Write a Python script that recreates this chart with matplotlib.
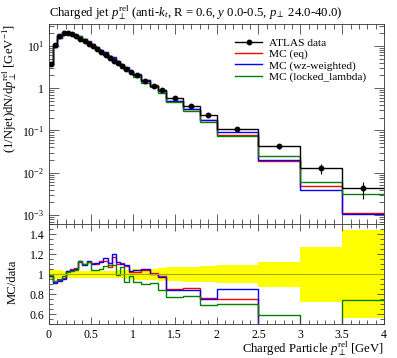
import numpy as np
import matplotlib
matplotlib.use('Agg')
import matplotlib.pyplot as plt
from matplotlib.ticker import MultipleLocator, LogLocator, NullFormatter, FuncFormatter

plt.rcParams['font.family'] = ['Liberation Serif', 'DejaVu Serif']
plt.rcParams['mathtext.fontset'] = 'custom'
plt.rcParams['mathtext.rm'] = 'Liberation Serif'
plt.rcParams['mathtext.it'] = 'Liberation Serif:italic'

# bin edges of charged particle p_T^rel [GeV]
EDGES = [0.0, 0.05, 0.1, 0.15, 0.2, 0.25, 0.3, 0.35, 0.4, 0.45, 0.5,
         0.55, 0.6, 0.65, 0.7, 0.75, 0.8, 0.85, 0.9, 0.95, 1.0,
         1.1, 1.2, 1.3, 1.4, 1.6, 1.8, 2.0, 2.5, 3.0, 3.5, 4.0]

# ATLAS data, (1/Njet) dN/dp_T^rel
DATA = [3.7, 10.5, 16.8, 20.5, 20.5, 19.0, 16.8, 14.8, 13.0, 11.3,
        9.8, 8.4, 7.2, 6.2, 5.3, 4.5, 3.9, 3.3, 2.85, 2.45,
        2.05, 1.5, 1.15, 0.9, 0.6, 0.38, 0.23, 0.107, 0.042, 0.0127, 0.0043]
DATA_RELERR = [0.05, 0.045, 0.04, 0.035, 0.035, 0.035, 0.035, 0.035, 0.035, 0.035,
               0.035, 0.035, 0.035, 0.035, 0.035, 0.035, 0.04, 0.04, 0.045, 0.05,
               0.055, 0.055, 0.055, 0.065, 0.067, 0.075, 0.078, 0.09, 0.125, 0.275, 0.44]

# MC / data ratios
RATIO_EQ = [0.98, 0.92, 0.94, 0.96, 1.03, 1.05, 1.06, 1.12, 1.10, 1.12,
            1.11, 1.10, 1.13, 1.13, 1.07, 1.17, 1.10, 1.11, 1.08, 1.02,
            1.02, 1.045, 1.01, 0.98, 0.85, 0.86, 0.76, 0.75, 0.45, 0.39, 0.26]
RATIO_WZ = [0.977, 0.91, 0.93, 0.95, 1.03, 1.04, 1.05, 1.13, 1.09, 1.13,
            1.10, 1.11, 1.12, 1.16, 1.11, 1.20, 1.12, 1.10, 1.09, 1.03,
            1.045, 1.05, 1.00, 0.97, 0.845, 0.845, 0.755, 0.855, 0.476, 0.31, 0.25]
RATIO_LL = [0.99, 0.93, 0.95, 0.98, 1.02, 1.03, 1.04, 1.13, 1.10, 1.12,
            1.04, 1.04, 1.05, 1.08, 1.09, 1.09, 0.99, 1.07, 0.92, 0.98,
            0.92, 0.90, 0.91, 0.84, 0.77, 0.78, 0.69, 0.70, 0.59, 0.47, 0.74]

MC = [('MC (eq)', RATIO_EQ, 'red'),
      ('MC (wz-weighted)', RATIO_WZ, 'blue'),
      ('MC (locked_lambda)', RATIO_LL, 'green')]

FS = 9.2
TFS = 8.5
LFS = 8.2


def log_label(v, pos):
    e = int(round(np.log10(v)))
    if e == 0:
        return '1'
    return r'$10^{%d}$' % e


def main():
    edges = np.array(EDGES)
    data = np.array(DATA)
    err = data * np.array(DATA_RELERR)
    centres = 0.5 * (edges[1:] + edges[:-1])

    fig = plt.figure(figsize=(3.97, 3.58), dpi=100)
    ax = fig.add_axes([0.1234, 0.374, 0.844, 0.559])
    rx = fig.add_axes([0.1234, 0.095, 0.844, 0.279])

    # main panel
    for label, ratio, col in MC:
        ax.stairs(data * np.array(ratio), edges, baseline=None,
                  color=col, lw=1.0, label=label)
    ax.stairs(data, edges, baseline=None, color='black', lw=1.0)
    ax.errorbar(centres, data, yerr=err, fmt='o', color='black',
                ms=3.2, lw=0.8, capsize=0)
    ax.plot([], [], '-o', color='black', ms=3.2, lw=1.0, label='ATLAS data')

    ax.set_yscale('log')
    ax.set_xlim(0, 4)
    ax.set_ylim(6.1e-4, 33)
    ax.yaxis.set_major_locator(LogLocator(base=10, numticks=10))
    ax.yaxis.set_major_formatter(FuncFormatter(log_label))
    ax.yaxis.set_minor_locator(LogLocator(base=10, subs=np.arange(2, 10), numticks=10))
    ax.yaxis.set_minor_formatter(NullFormatter())
    ax.xaxis.set_major_locator(MultipleLocator(0.5))
    ax.xaxis.set_minor_locator(MultipleLocator(0.1))
    ax.tick_params(labelbottom=False)
    ax.set_ylabel(r'(1/Njet)dN/d$p_{\perp}^{\mathrm{rel}}$ [GeV$^{-1}$]',
                  fontsize=FS, loc='top')
    ax.yaxis.set_label_coords(-0.09, 1.0)
    ax.set_title(r'Charged jet $p_{\perp}^{\mathrm{rel}}$ (anti-$k_t$, R = 0.6, '
                 r'$y$ 0.0-0.5, $p_{\perp}$ 24.0-40.0)',
                 loc='left', fontsize=FS, pad=5)

    h, l = ax.get_legend_handles_labels()
    order = [3, 0, 1, 2]
    ax.legend([h[i] for i in order], [l[i] for i in order], loc='upper right',
              frameon=False, fontsize=LFS, handlelength=2.35, handletextpad=0.6,
              labelspacing=0.12, borderaxespad=0.0, bbox_to_anchor=(0.96, 0.955))

    # ratio panel
    relerr = np.array(DATA_RELERR)
    rx.stairs(1 + relerr, edges, baseline=1 - relerr, fill=True,
              color='#ffff00', lw=0)
    rx.axhline(1.0, color='#a8a800', lw=0.8)
    for label, ratio, col in MC:
        rx.stairs(np.array(ratio), edges, baseline=None, color=col, lw=1.0)

    rx.set_xlim(0, 4)
    rx.set_ylim(0.5, 1.5)
    rx.xaxis.set_major_locator(MultipleLocator(0.5))
    rx.xaxis.set_minor_locator(MultipleLocator(0.1))
    rx.yaxis.set_major_locator(MultipleLocator(0.2))
    rx.yaxis.set_minor_locator(MultipleLocator(0.05))
    rx.xaxis.set_major_formatter(FuncFormatter(lambda v, p: '%g' % v))
    rx.yaxis.set_major_formatter(FuncFormatter(lambda v, p: '%g' % round(v, 2)))
    rx.set_ylabel('MC/data', fontsize=FS)
    rx.yaxis.set_label_coords(-0.09, 0.42)
    rx.set_xlabel(r'Charged Particle $p_{\perp}^{\mathrm{rel}}$ [GeV]',
                  fontsize=FS, loc='right', labelpad=-0.5)

    for a, (maj, mnr) in ((ax, (7, 3.5)), (rx, (5, 3))):
        a.tick_params(which='both', direction='in', top=True, right=True,
                      labelsize=TFS, color='#444444', width=0.6)
        a.tick_params(which='major', length=maj)
        a.tick_params(which='minor', length=mnr)
        for s in a.spines.values():
            s.set_linewidth(0.6)
            s.set_color('#333333')
    rx.tick_params(axis='x', which='major', pad=3.5)

    fig.savefig('out.png', dpi=100)
    plt.close(fig)


if __name__ == '__main__':
    main()
